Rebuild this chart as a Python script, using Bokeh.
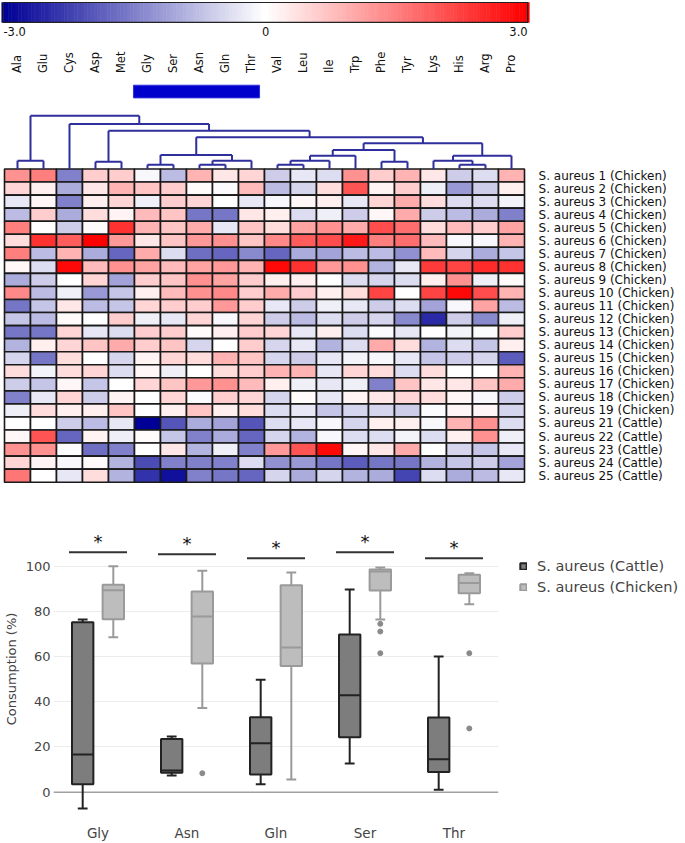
import numpy as np
from bokeh.plotting import figure
from bokeh.layouts import column, row
from bokeh.models import (Range1d, ColumnDataSource, FactorRange, Legend, LegendItem,
                          FixedTicker, Span)
from bokeh.transform import linear_cmap, dodge
from bokeh.core.properties import value
from bokeh.embed import file_html
from bokeh.resources import INLINE

# ---------------- heatmap data ----------------
amino_acids = ["Ala", "Glu", "Cys", "Asp", "Met", "Gly", "Ser", "Asn", "Gln", "Thr",
               "Val", "Leu", "Ile", "Trp", "Phe", "Tyr", "Lys", "His", "Arg", "Pro"]
strain_labels = ["S. aureus 1 (Chicken)", "S. aureus 2 (Chicken)", "S. aureus 3 (Chicken)",
                 "S. aureus 4 (Chicken)", "S. aureus 5 (Chicken)", "S. aureus 6 (Chicken)",
                 "S. aureus 7 (Chicken)", "S. aureus 8 (Chicken)", "S. aureus 9 (Chicken)",
                 "S. aureus 10 (Chicken)", "S. aureus 11 (Chicken)", "S. aureus 12 (Chicken)",
                 "S. aureus 13 (Chicken)", "S. aureus 14 (Chicken)", "S. aureus 15 (Chicken)",
                 "S. aureus 16 (Chicken)", "S. aureus 17 (Chicken)", "S. aureus 18 (Chicken)",
                 "S. aureus 19 (Chicken)", "S. aureus 21 (Cattle)", "S. aureus 22 (Cattle)",
                 "S. aureus 23 (Cattle)", "S. aureus 24 (Cattle)", "S. aureus 25 (Cattle)"]

sa01 = [1.3, 1.5, -1.5, 0.6, 0.6, -0.1, -0.8, 0.9, 0.3, 0.5, -0.6, -0.3, -0.4, 1.3, 0.6, 0.9, 0.3, -0.6, -0.4, 0.9]
sa02 = [0.5, 0.2, -1.0, 0.3, 0.9, 0.7, 0.6, 0.05, -0.05, 0.8, -0.8, -0.5, 0.4, 2.0, 0.15, 0.6, -0.2, -1.2, -0.6, 0.2]
sa03 = [-0.3, 0.1, -1.5, 0.2, 0.5, -0.2, 0.6, 0.5, 0.0, -0.3, -0.1, 0.1, 0.2, -0.3, 0.5, 1.0, 0.4, -0.4, -0.4, -0.15]
sa04 = [-0.8, 0.6, -1.0, 0.4, 0.15, 0.8, 0.7, -1.6, -1.6, 0.3, 0.2, -0.4, -0.2, -0.6, 0.1, 1.0, -0.6, -0.8, -1.0, -1.5]
sa05 = [1.5, 0.0, -0.6, 0.05, 2.4, 0.9, 0.7, 1.0, -0.3, 0.7, 0.4, 1.1, 1.3, 1.0, 2.1, 1.7, 0.4, 0.8, 0.6, 1.1]
sa06 = [0.4, 2.4, 1.9, 3.0, 1.2, 0.3, 0.7, 1.2, 1.3, 0.7, 1.4, 1.9, 2.1, 2.7, 1.5, 1.7, 0.8, -0.1, -0.1, 0.9]
sa07 = [1.5, -0.8, 0.9, -1.0, -1.8, 1.0, -0.4, -1.7, -1.8, -1.4, -1.8, -1.0, -1.1, -0.8, -0.8, -1.3, 0.8, -0.5, -1.0, -0.7]
sa08 = [0.1, -0.4, 2.9, 0.8, 1.3, 1.1, 0.8, 1.1, 1.2, 0.9, 2.9, 2.4, 1.2, 1.3, -0.9, -0.3, 2.3, 2.2, 2.5, 2.4]
sa09 = [-1.0, -0.6, 0.0, 0.5, -1.1, 0.6, 0.7, 1.3, 1.1, 0.6, 0.2, 0.2, 0.0, -0.4, -0.5, -0.4, 0.2, 1.3, -0.2, 0.05]
sa10 = [1.4, -0.8, -0.2, -1.2, -0.7, 0.2, 0.8, 1.3, 1.4, 0.6, 1.0, 0.6, 0.2, 0.4, 2.2, 0.0, 2.2, 2.9, 2.1, 0.9]
sa11 = [-1.6, -0.7, 0.3, -0.8, -0.7, 0.5, 0.6, 0.6, 1.2, 0.6, -0.3, -0.6, -0.2, -0.3, -0.6, -0.4, -1.1, -0.1, 1.1, -0.8]
sa12 = [-0.7, -0.8, 0.05, 0.0, 0.6, -0.2, -0.3, 0.5, -0.1, 0.5, -0.6, -0.8, -0.4, -0.6, -0.5, -1.4, -2.5, -0.6, -1.4, -0.2]
sa13 = [-1.6, -1.6, 0.5, -0.3, -0.4, 0.6, 0.6, 0.05, 0.2, 0.6, 0.5, -0.3, 0.2, -0.4, -0.05, -0.3, 0.0, -0.15, -0.05, 0.6]
sa14 = [-0.9, 0.2, 0.5, 0.7, 1.0, 0.6, 0.7, -0.5, 0.0, 0.6, -0.5, -0.3, -0.9, -0.4, 1.0, 0.4, -0.9, -0.4, -0.7, 0.2]
sa15 = [-0.5, -1.6, 0.4, 0.0, -0.5, 0.15, 0.5, 0.4, 0.9, 0.7, -0.5, -0.6, -0.3, -0.15, -0.1, -0.3, -0.7, -0.6, -0.5, -1.9]
sa16 = [0.4, -0.15, 0.4, 0.5, -0.4, 0.1, -0.2, 0.0, 0.4, 0.6, 0.9, 0.9, -0.3, 0.5, 0.4, -0.4, 0.4, 0.0, 0.0, 0.9]
sa17 = [-0.6, -0.7, 0.1, -0.7, 0.0, 0.5, 0.7, 1.2, 1.3, 0.8, 0.2, -0.2, -0.3, -0.2, -1.5, 0.7, 0.3, 0.3, 0.7, 1.0]
sa18 = [-1.5, -0.3, 0.5, -0.6, 0.15, 0.0, 0.5, -0.05, 0.6, 0.5, -0.5, 0.05, -0.3, 0.15, 0.3, 0.5, 0.4, 0.1, -0.1, -0.6]
sa19 = [-0.2, 0.4, 0.2, 0.2, 0.7, 0.0, 0.2, 0.7, 0.2, 0.4, -0.4, -0.3, -0.7, -0.5, -0.5, -0.6, -0.05, 0.1, 0.1, -0.5]
sa21 = [0.0, 0.0, -0.6, -0.8, -0.3, -3.0, -2.0, -1.0, -1.1, -2.0, -0.4, -0.3, -0.1, -0.5, 0.2, 0.2, -0.1, 0.9, 1.3, -0.4]
sa22 = [0.1, 2.0, -1.8, 0.15, -0.2, 0.05, -0.7, -1.5, -1.0, -1.8, -0.5, -0.9, -0.1, -0.4, -0.4, -0.15, -0.4, 0.2, 1.3, -0.2]
sa23 = [1.3, 1.3, -0.05, -1.7, -1.5, 0.0, 0.3, -0.9, -0.2, -1.5, 1.2, 2.0, 2.9, 0.1, 0.3, 1.0, 0.0, -0.5, -0.7, -0.3]
sa24 = [0.5, 0.15, -0.1, 0.05, -0.9, -2.1, -1.5, -1.5, -1.5, -0.4, -1.3, -1.2, -1.6, -1.9, -1.6, -1.6, -0.9, -0.7, -0.6, -1.1]
sa25 = [1.6, 0.0, -0.3, 0.4, -0.9, -2.4, -2.8, -1.5, -1.6, -1.8, -0.5, -1.0, -0.5, -0.9, -1.0, -2.2, -0.4, -1.0, -0.8, -0.3]
heat_rows = [sa01, sa02, sa03, sa04, sa05, sa06, sa07, sa08, sa09, sa10, sa11, sa12,
             sa13, sa14, sa15, sa16, sa17, sa18, sa19, sa21, sa22, sa23, sa24, sa25]

color_low, color_high = -3.0, 3.0
colorbar_ticks = [-3.0, 0.0, 3.0]
colorbar_tick_labels = ["-3.0", "0", "3.0"]
highlight_group = ["Gly", "Ser", "Asn", "Gln", "Thr"]

# dendrogram linkage: (child a, child b, linkage distance); leaves 0..19, new nodes from 20
merges = [(5, 6, 4.3), (7, 8, 4.3), (21, 9, 8.3), (20, 22, 14.0),
          (10, 11, 4.3), (24, 12, 8.3), (25, 13, 13.3), (14, 15, 7.3), (26, 27, 19.0),
          (17, 18, 4.3), (16, 29, 8.3), (30, 19, 13.3), (28, 31, 25.7),
          (23, 32, 31.7), (3, 4, 7.3), (34, 33, 38.3), (2, 35, 45.0),
          (0, 1, 8.3), (37, 36, 53.3)]

# ---------------- box plot data ----------------
box_categories = ["Gly", "Asn", "Gln", "Ser", "Thr"]
cattle_low = [-7.2, 7.4, 3.5, 12.7, 1.1]
cattle_q1 = [3.5, 8.6, 7.8, 24.3, 8.9]
cattle_med = [16.7, 9.6, 21.7, 42.9, 14.6]
cattle_q3 = [75.2, 23.5, 33.2, 69.8, 33.0]
cattle_high = [76.4, 24.6, 49.7, 89.7, 60.0]
chicken_low = [68.6, 37.2, 5.6, 76.4, 83.2]
chicken_q1 = [76.5, 56.9, 55.8, 89.2, 88.0]
chicken_med = [89.4, 77.7, 64.0, 97.7, 92.6]
chicken_q3 = [91.8, 88.8, 91.6, 98.5, 96.2]
chicken_high = [100.0, 98.0, 97.2, 99.4, 96.9]
chicken_outlier_cat = ["Asn", "Ser", "Ser", "Ser", "Thr", "Thr"]
chicken_outlier_val = [8.4, 74.5, 71.1, 61.5, 61.5, 28.2]
significance_level = [106.2, 105.3, 103.5, 106.2, 103.5]
significance_mark = ["*", "*", "*", "*", "*"]
y_ticks = [0, 20, 40, 60, 80, 100]


def mix(c1, c2, t):
    return "#%02x%02x%02x" % tuple(int(round(a + (b - a) * t)) for a, b in zip(c1, c2))


NEG, MID, POS = (0, 0, 150), (255, 255, 255), (255, 0, 0)
palette = [mix(NEG, MID, i / 127) for i in range(128)] + [mix(MID, POS, i / 127) for i in range(128)]

FONT_H = value("DejaVu Sans")

# ================= top figure: colour key, dendrogram, heatmap =================
n_cols = len(amino_acids)
n_rows = len(strain_labels)
p1 = figure(frame_width=685, frame_height=495, x_range=Range1d(-0.1538, 26.1923),
            y_range=Range1d(25.02, -12.912), min_border=0,
            x_axis_location=None, y_axis_location=None,
            toolbar_location=None, output_backend="svg")
p1.grid.visible = False
p1.outline_line_color = None

# heatmap cells
hx, hy, hv = [], [], []
for r, row_vals in enumerate(heat_rows):
    for c, v in enumerate(row_vals):
        hx.append(c + 0.5)
        hy.append(r + 0.5)
        hv.append(v)
hsrc = ColumnDataSource(dict(x=hx, y=hy, v=hv))
p1.rect(x="x", y="y", width=1, height=1, source=hsrc,
        fill_color=linear_cmap("v", palette, color_low, color_high),
        line_color="#1a1a1a", line_width=1.6)

# colour key
cb_left, cb_right, cb_top, cb_bottom = -0.04, 20.12, -12.76, -11.23
N = 160
cb_vals = np.linspace(color_low, color_high, N)
cb_x = cb_left + (cb_vals - color_low) / (color_high - color_low) * (cb_right - cb_left)
step = (cb_right - cb_left) / (N - 1)
cbsrc = ColumnDataSource(dict(x=cb_x, v=cb_vals))
cmap = linear_cmap("v", palette, color_low, color_high)
p1.rect(x="x", y=(cb_top + cb_bottom) / 2, width=step * 1.05, height=cb_bottom - cb_top,
        source=cbsrc, fill_color=cmap, line_color=cmap, line_width=0.5)
p1.quad(left=cb_left, right=cb_right, top=cb_top, bottom=cb_bottom,
        fill_color=None, line_color="#222222", line_width=1.2)
tick_x = [cb_left + (t - color_low) / (color_high - color_low) * (cb_right - cb_left)
          for t in colorbar_ticks]
for tx, tl, al in zip(tick_x, colorbar_tick_labels, ["left", "center", "right"]):
    p1.text(x=[tx], y=[-10.52], text=[tl], text_align=al, text_baseline="middle",
            text_font=FONT_H, text_font_size="11.5px", text_color="#111111")

# column labels
p1.text(x=[i + 0.5 for i in range(n_cols)], y=[-7.35] * n_cols, text=amino_acids,
        angle=np.pi / 2, text_align="left", text_baseline="middle",
        text_font=FONT_H, text_font_size="11.5px", text_color="#111111")

# highlighted group bar
g_idx = [amino_acids.index(a) for a in highlight_group]
p1.quad(left=min(g_idx) - 0.04, right=max(g_idx) + 1 - 0.19, top=-6.42, bottom=-5.45,
        fill_color="#0000cc", line_color="#3333dd", line_width=1)

# row labels
p1.text(x=[20.54] * n_rows, y=[r + 0.5 for r in range(n_rows)], text=strain_labels,
        text_align="left", text_baseline="middle",
        text_font=FONT_H, text_font_size="12px", text_color="#111111")

# dendrogram
dendro_scale = 1.0 / 13.05
pos = {i: i + 0.5 for i in range(n_cols)}
hgt = {i: 0.0 for i in range(n_cols)}
x0s, y0s, x1s, y1s = [], [], [], []
node = n_cols
for a, b, h in merges:
    for ch in (a, b):
        x0s.append(pos[ch]); y0s.append(-hgt[ch] * dendro_scale)
        x1s.append(pos[ch]); y1s.append(-h * dendro_scale)
    x0s.append(pos[a]); y0s.append(-h * dendro_scale)
    x1s.append(pos[b]); y1s.append(-h * dendro_scale)
    pos[node] = (pos[a] + pos[b]) / 2
    hgt[node] = h
    node += 1
p1.segment(x0=x0s, y0=y0s, x1=x1s, y1=y1s, line_color="#2e2e9c", line_width=2)

# ================= bottom figure: box plot =================
p2 = figure(x_range=FactorRange(factors=box_categories), y_range=Range1d(-8.98, 118.0),
            frame_width=445, frame_height=287, min_border_left=53, min_border_right=187,
            min_border_top=30, min_border_bottom=31,
            toolbar_location=None, output_backend="svg")
p2.outline_line_color = None
p2.xgrid.grid_line_color = None
p2.ygrid.ticker = FixedTicker(ticks=y_ticks[1:])
p2.ygrid.grid_line_color = "#ececec"
p2.yaxis.ticker = FixedTicker(ticks=y_ticks)
p2.yaxis.axis_line_color = None
p2.yaxis.major_tick_line_color = None
p2.yaxis.minor_tick_line_color = None
p2.yaxis.major_tick_out = 0
p2.yaxis.major_tick_in = 0
p2.yaxis.minor_tick_out = 0
p2.yaxis.major_label_standoff = 3
p2.yaxis.major_label_text_font = "DejaVu Sans"
p2.yaxis.major_label_text_font_size = "13px"
p2.yaxis.major_label_text_color = "#444444"
p2.yaxis.axis_label = "Consumption (%)"
p2.yaxis.axis_label_text_font = "DejaVu Sans"
p2.yaxis.axis_label_text_font_size = "13px"
p2.yaxis.axis_label_text_font_style = "normal"
p2.yaxis.axis_label_text_color = "#444444"
p2.yaxis.axis_label_standoff = 4
p2.xaxis.axis_line_color = None
p2.xaxis.major_tick_line_color = None
p2.xaxis.minor_tick_line_color = None
p2.xaxis.major_tick_out = 0
p2.xaxis.major_tick_in = 0
p2.xaxis.major_label_standoff = 12
p2.xaxis.major_label_text_font = "DejaVu Sans"
p2.xaxis.major_label_text_font_size = "13.5px"
p2.xaxis.major_label_text_color = "#444444"

p2.add_layout(Span(location=0, dimension="width", line_color="#a0a0a0",
                   line_width=1.5, level="underlay"))

OFF = 0.172
BOX_W = 0.24
CAP_W = 0.11
groups = [
    ("S. aureus (Cattle)", -OFF, cattle_low, cattle_q1, cattle_med, cattle_q3, cattle_high,
     "#7d7d7d", "#222222"),
    ("S. aureus (Chicken)", OFF, chicken_low, chicken_q1, chicken_med, chicken_q3, chicken_high,
     "#bdbdbd", "#9a9a9a"),
]
legend_items = []
for label, off, lo, q1, med, q3, hi, fill, line in groups:
    src = ColumnDataSource(dict(cat=box_categories, lo=lo, q1=q1, med=med, q3=q3, hi=hi))
    xc = dodge("cat", off, range=p2.x_range)
    xl = dodge("cat", off - CAP_W / 2, range=p2.x_range)
    xr = dodge("cat", off + CAP_W / 2, range=p2.x_range)
    p2.segment(x0=xc, y0="lo", x1=xc, y1="q1", source=src, line_color=line, line_width=2)
    p2.segment(x0=xc, y0="q3", x1=xc, y1="hi", source=src, line_color=line, line_width=2)
    p2.segment(x0=xl, y0="lo", x1=xr, y1="lo", source=src, line_color=line, line_width=2)
    p2.segment(x0=xl, y0="hi", x1=xr, y1="hi", source=src, line_color=line, line_width=2)
    rb = p2.vbar(x=xc, width=BOX_W, bottom="q1", top="q3", source=src,
                 fill_color=fill, line_color=line, line_width=2)
    p2.segment(x0=dodge("cat", off - BOX_W / 2, range=p2.x_range), y0="med",
               x1=dodge("cat", off + BOX_W / 2, range=p2.x_range), y1="med",
               source=src, line_color=line, line_width=2)
    legend_items.append(LegendItem(label=label, renderers=[rb]))

osrc = ColumnDataSource(dict(cat=chicken_outlier_cat, val=chicken_outlier_val))
p2.scatter(x=dodge("cat", OFF, range=p2.x_range), y="val", source=osrc,
           size=5, fill_color="#8a8a8a", line_color="#8a8a8a")

ssrc = ColumnDataSource(dict(cat=box_categories, sig=significance_level, mark=significance_mark))
p2.segment(x0=dodge("cat", -0.326, range=p2.x_range), y0="sig",
           x1=dodge("cat", 0.326, range=p2.x_range), y1="sig",
           source=ssrc, line_color="#333333", line_width=2)
p2.text(x="cat", y="sig", text="mark", source=ssrc, text_align="center",
        text_baseline="alphabetic", y_offset=-11, text_font=FONT_H,
        text_font_size="18px", text_color="#111111")

legend = Legend(items=legend_items, location=(21, 215), orientation="vertical",
                label_text_font="DejaVu Sans", label_text_font_size="14.5px",
                label_text_color="#444444", glyph_width=8, glyph_height=8,
                label_height=21, label_standoff=10, spacing=0, padding=0, margin=0,
                border_line_color=None, background_fill_alpha=0)
p2.add_layout(legend, "right")

layout = column(p1, row(p2))
open("out.html", "w").write(file_html(layout, INLINE))
